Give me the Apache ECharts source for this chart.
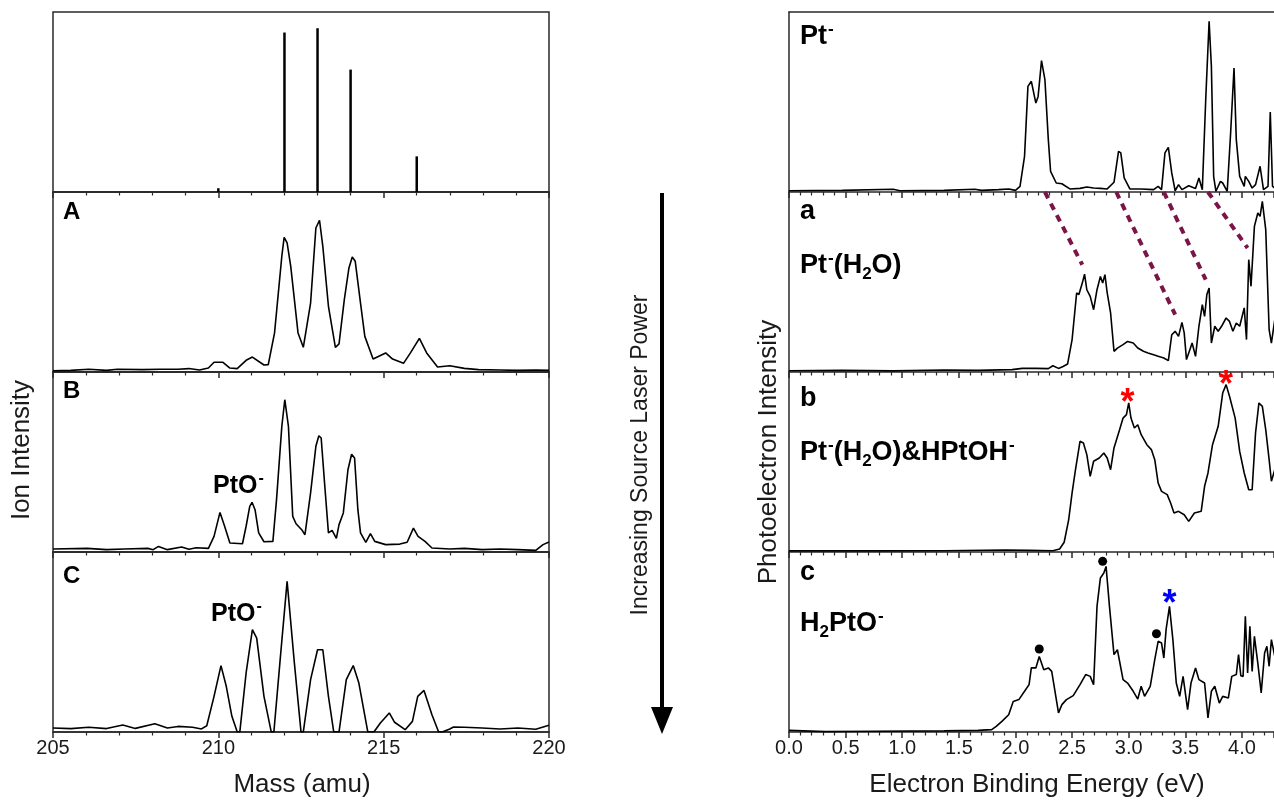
<!DOCTYPE html>
<html><head><meta charset="utf-8">
<script src="https://cdn.jsdelivr.net/npm/echarts@6/dist/echarts.min.js"></script>
<style>html,body{margin:0;padding:0;background:#fff;overflow:hidden}#c{width:1274px;height:802px}</style>
</head><body><div id="c"></div>
<script>
// ---------- DATA ----------
const stickMass = [210, 212, 213, 214, 216];
const stickAbund = [2.1, 88.6, 91.0, 68.0, 19.8];

const massA = [[205.00,0.7],[205.54,0.9],[206.08,1.5],[206.62,0.9],[206.95,1.5],[207.70,1.3],[208.24,1.5],[208.78,1.5],[209.11,1.9],[209.43,1.1],[209.70,2.2],[209.87,5.4],[210.14,5.4],[210.35,2.2],[210.57,1.9],[210.84,6.5],[211.03,8.3],[211.38,3.9],[211.51,4.1],[211.70,21.7],[211.92,64.3],[211.99,74.8],[212.08,71.7],[212.19,58.7],[212.41,21.7],[212.57,13.7],[212.79,38.3],[212.95,80.0],[213.06,84.3],[213.16,69.8],[213.33,36.5],[213.54,13.7],[213.65,15.6],[213.81,40.2],[213.95,57.8],[214.05,63.9],[214.14,61.5],[214.30,38.3],[214.43,19.8],[214.68,7.2],[215.06,10.6],[215.27,7.2],[215.60,4.8],[215.81,10.6],[216.08,18.7],[216.30,10.6],[216.63,2.8],[217.00,3.5],[217.44,2.0],[217.87,1.3],[218.52,1.1],[219.06,0.9],[219.60,1.1],[220.00,0.9]];

const massB = [[205.00,1.7],[206.03,2.0],[206.62,1.3],[207.16,1.7],[207.87,2.0],[208.03,1.3],[208.19,3.1],[208.46,1.3],[208.89,2.8],[209.11,1.5],[209.33,2.4],[209.70,2.0],[209.87,8.7],[210.05,22.0],[210.19,14.3],[210.35,5.0],[210.73,4.6],[210.84,14.3],[210.95,25.4],[211.02,27.6],[211.11,23.5],[211.22,10.6],[211.38,5.7],[211.65,5.9],[211.76,29.1],[211.92,69.8],[212.01,84.6],[212.12,69.8],[212.25,19.8],[212.35,15.7],[212.52,12.4],[212.62,9.6],[212.79,32.8],[212.95,58.7],[213.04,64.6],[213.11,63.3],[213.22,36.5],[213.33,10.6],[213.44,12.0],[213.57,7.6],[213.65,15.2],[213.78,21.7],[213.92,45.7],[214.03,54.3],[214.12,52.2],[214.22,23.5],[214.30,10.6],[214.46,5.4],[214.60,10.2],[214.73,5.9],[215.06,4.1],[215.49,4.4],[215.71,5.4],[215.90,13.3],[216.04,8.7],[216.25,5.9],[216.46,2.2],[217.00,1.7],[217.44,2.0],[217.98,1.3],[218.52,1.7],[219.06,1.3],[219.60,0.9],[219.82,4.1],[220.00,5.6]];

const massC = [[205.00,2.2],[205.54,1.9],[206.08,2.6],[206.62,1.9],[207.11,3.9],[207.49,2.0],[208.08,4.6],[208.46,2.2],[208.78,3.1],[209.22,2.6],[209.49,1.7],[209.65,3.5],[209.87,19.8],[210.08,36.9],[210.24,25.4],[210.41,8.7],[210.57,0.1],[210.65,0.1],[210.84,32.8],[211.03,56.9],[211.16,52.2],[211.38,19.8],[211.60,0.1],[211.68,0.1],[211.87,40.2],[212.08,83.7],[212.30,38.3],[212.50,0.1],[212.57,0.1],[212.79,29.1],[213.00,45.7],[213.16,45.7],[213.33,19.8],[213.49,0.1],[213.65,0.1],[213.87,29.1],[214.08,36.9],[214.25,27.2],[214.52,0.1],[214.71,0.1],[214.90,5.0],[215.17,10.6],[215.33,5.4],[215.65,1.3],[215.87,5.9],[216.03,19.8],[216.22,23.1],[216.46,9.6],[216.66,0.1],[216.79,0.1],[217.00,1.7],[217.11,2.8],[217.44,2.6],[217.98,2.2],[218.52,1.7],[219.06,2.2],[219.60,1.5],[220.00,3.7]];

const ptAnion = [[0.00,0.7],[0.47,0.9],[0.92,1.5],[0.98,0.7],[1.37,0.9],[1.64,1.5],[1.70,0.9],[1.85,1.3],[1.94,1.7],[2.00,0.9],[2.04,3.1],[2.08,19.8],[2.11,58.7],[2.14,61.5],[2.18,49.4],[2.20,53.1],[2.23,73.0],[2.26,62.4],[2.29,29.1],[2.31,11.5],[2.36,5.0],[2.41,4.6],[2.48,1.7],[2.57,2.0],[2.63,2.8],[2.69,2.2],[2.75,2.0],[2.81,1.7],[2.87,5.4],[2.91,22.6],[2.93,21.7],[2.96,7.8],[3.01,1.7],[3.11,1.7],[3.22,1.3],[3.26,3.1],[3.29,1.3],[3.32,21.7],[3.35,24.8],[3.38,10.6],[3.41,0.7],[3.44,4.1],[3.47,1.3],[3.53,3.5],[3.59,2.0],[3.62,7.8],[3.65,1.3],[3.68,51.3],[3.71,94.8],[3.73,69.8],[3.75,8.7],[3.77,0.4],[3.81,5.9],[3.83,5.0],[3.87,0.4],[3.90,32.8],[3.93,68.9],[3.95,29.1],[3.98,8.7],[4.02,3.1],[4.03,8.7],[4.06,5.9],[4.09,2.2],[4.12,4.1],[4.16,14.3],[4.19,1.3],[4.23,3.1],[4.25,44.4],[4.27,3.1],[4.29,2.2]];

const ptWater = [[0.00,0.7],[0.47,0.9],[0.92,0.6],[1.37,1.1],[1.67,0.9],[1.97,1.3],[2.06,2.0],[2.18,2.0],[2.29,1.9],[2.33,3.5],[2.38,2.0],[2.42,3.1],[2.46,4.4],[2.50,18.0],[2.54,43.9],[2.56,43.0],[2.59,49.4],[2.61,54.4],[2.63,45.7],[2.66,42.0],[2.69,34.6],[2.72,45.7],[2.75,53.1],[2.77,49.4],[2.79,54.1],[2.81,43.9],[2.84,32.8],[2.87,11.5],[2.90,13.3],[2.95,15.2],[2.99,17.0],[3.04,16.1],[3.08,13.3],[3.13,11.5],[3.17,10.6],[3.22,9.6],[3.26,8.7],[3.31,7.8],[3.35,6.3],[3.38,20.7],[3.41,22.6],[3.44,19.8],[3.47,27.6],[3.49,21.7],[3.51,6.9],[3.54,12.4],[3.56,16.1],[3.59,8.7],[3.62,25.4],[3.65,37.4],[3.67,30.9],[3.69,43.0],[3.71,46.7],[3.73,16.1],[3.76,25.4],[3.79,22.6],[3.82,25.4],[3.86,30.0],[3.89,28.1],[3.92,22.6],[3.95,27.2],[3.98,25.4],[4.02,35.6],[4.04,18.0],[4.06,62.4],[4.08,47.6],[4.11,80.9],[4.14,88.3],[4.16,86.5],[4.18,94.8],[4.21,79.1],[4.24,23.5],[4.26,16.1],[4.29,29.1]];

const ptMix = [[0.00,0.6],[0.77,0.6],[1.37,0.7],[1.91,1.1],[2.12,0.9],[2.33,0.7],[2.39,1.7],[2.43,5.4],[2.47,18.0],[2.50,32.8],[2.53,45.7],[2.57,61.5],[2.60,60.6],[2.63,54.1],[2.66,42.0],[2.69,50.4],[2.74,52.2],[2.78,55.0],[2.81,52.2],[2.84,45.7],[2.87,57.8],[2.92,68.0],[2.95,74.4],[2.98,76.3],[3.00,82.8],[3.02,74.4],[3.05,68.9],[3.08,70.7],[3.11,65.2],[3.16,59.6],[3.20,56.9],[3.23,51.3],[3.26,38.3],[3.29,33.7],[3.34,31.9],[3.37,27.2],[3.40,21.7],[3.44,22.6],[3.49,20.7],[3.53,17.0],[3.58,21.7],[3.64,22.6],[3.67,36.5],[3.70,43.9],[3.74,59.6],[3.79,69.8],[3.83,88.3],[3.86,93.0],[3.89,86.5],[3.94,74.4],[3.98,55.9],[4.02,43.9],[4.06,34.6],[4.09,34.6],[4.12,66.1],[4.15,82.8],[4.18,80.9],[4.21,68.0],[4.24,51.3],[4.26,39.3],[4.29,45.7]];

const h2pto = [[0.00,0.9],[0.32,0.2],[0.77,0.4],[1.37,0.6],[1.67,0.9],[1.79,1.3],[1.83,3.1],[1.88,5.9],[1.94,9.6],[1.98,17.0],[2.03,18.0],[2.08,22.6],[2.12,26.3],[2.14,35.6],[2.18,35.6],[2.21,42.0],[2.25,34.6],[2.29,35.6],[2.32,33.7],[2.38,10.6],[2.41,15.2],[2.45,18.0],[2.51,20.2],[2.57,26.3],[2.62,31.9],[2.66,30.9],[2.69,26.3],[2.72,69.8],[2.75,85.6],[2.78,88.3],[2.80,92.0],[2.83,69.8],[2.87,43.0],[2.90,45.7],[2.95,29.1],[2.99,27.2],[3.04,22.6],[3.08,18.3],[3.11,25.4],[3.14,19.8],[3.19,25.4],[3.23,40.2],[3.26,50.4],[3.29,49.4],[3.31,41.1],[3.33,56.9],[3.36,69.8],[3.39,51.3],[3.42,27.2],[3.45,19.8],[3.48,30.9],[3.52,12.4],[3.55,27.2],[3.59,35.6],[3.62,29.1],[3.67,27.2],[3.70,7.8],[3.73,22.6],[3.76,25.4],[3.80,16.1],[3.83,19.8],[3.88,18.9],[3.91,30.9],[3.95,31.9],[3.97,43.0],[3.99,31.3],[4.01,30.9],[4.03,64.3],[4.05,32.8],[4.07,58.7],[4.09,33.7],[4.11,53.1],[4.14,38.3],[4.17,21.7],[4.20,43.9],[4.22,47.6],[4.24,36.5],[4.26,51.3],[4.29,42.0]];

// correlation guides (Pt- peaks -> Pt-(H2O) peaks), values in panel "a" units
const guideLines = [
  [[2.26,100],[2.59,59.6]],
  [[2.89,100],[3.41,31.9]],
  [[3.31,100],[3.68,51.3]],
  [[3.70,100],[4.05,68.9]]
];
const redStars = [[2.99,86.5],[3.86,96.7]];
const blueStars = [[3.36,75.0]];
const dots = [[2.21,46.1],[2.77,94.8],[3.245,54.6]];

const massTicks = [205, 210, 215, 220];
const energyTicks = [0.0,0.5,1.0,1.5,2.0,2.5,3.0,3.5,4.0];
const energyMax = 4.283; // visible right edge of the (cropped) energy panels

// ---------- CHART ----------
const FONT = '"Liberation Sans", Arial, sans-serif';
const INK = '#1a1a1a';
const EDGE = '#2a2a2a';
const panelTops = [12, 192, 372, 552];
const grids = [];
panelTops.forEach(t => grids.push({left:53, width:496, top:t, height:180, show:true, borderColor:EDGE, borderWidth:1.5, backgroundColor:'transparent'}));
panelTops.forEach(t => grids.push({left:789, right:0, top:t, height:180, show:false}));

const xAxes = [], yAxes = [];
for (let i = 0; i < 8; i++) {
  const left = i < 4;
  const bottom = (i === 3 || i === 7);
  xAxes.push({
    type:'value', gridIndex:i,
    min: left ? massTicks[0] : energyTicks[0],
    max: left ? massTicks[massTicks.length-1] : energyMax,
    interval: left ? 5 : 0.5,
    axisLine:{show:true, onZero:false, lineStyle:{color:EDGE, width:1.5}},
    axisTick:{show:true, inside:false, length:6, lineStyle:{color:EDGE, width:1.5}},
    minorTick:{show:true, splitNumber:5, length:3.5, lineStyle:{color:EDGE, width:1.2}},
    splitLine:{show:false}, minorSplitLine:{show:false},
    axisLabel:{show:bottom, fontSize:20, color:INK, fontFamily:FONT, margin:6, showMaxLabel:left,
      formatter: left ? (v => String(v)) : (v => v > 4.01 ? '' : v.toFixed(1))}
  });
  yAxes.push({type:'value', gridIndex:i, min:0, max:100, show:!left,
    axisLine:{show:!left, lineStyle:{color:EDGE, width:1.5}}, axisTick:{show:false}, axisLabel:{show:false}, splitLine:{show:false}});
}
// top frame line of the Pt- panel
xAxes.push({type:'value', gridIndex:4, position:'top', min:0, max:energyMax,
  axisLine:{show:true, onZero:false, lineStyle:{color:EDGE, width:1.5}}, axisTick:{show:false}, axisLabel:{show:false}, splitLine:{show:false}});

const lineSeries = (data, idx) => ({
  type:'line', xAxisIndex:idx, yAxisIndex:idx, data, showSymbol:false, symbol:'none',
  lineStyle:{color:'#000', width:1.6}, silent:true, animation:false
});

const series = [
  {type:'bar', xAxisIndex:0, yAxisIndex:0, barWidth:2.5,
   data: stickMass.map((m,i)=>[m, stickAbund[i]]), itemStyle:{color:'#000'}, animation:false},
  lineSeries(massA,1), lineSeries(massB,2), lineSeries(massC,3),
  lineSeries(ptAnion,4), lineSeries(ptWater,5), lineSeries(ptMix,6), lineSeries(h2pto,7)
];
guideLines.forEach(seg => series.push({
  type:'line', xAxisIndex:5, yAxisIndex:5, data:seg, showSymbol:false, symbol:'none',
  clip:false, lineStyle:{color:'#7b1548', width:4, type:[7,6], cap:'butt'}, z:1, animation:false
}));
const starSeries = (data, idx, color) => ({
  type:'scatter', xAxisIndex:idx, yAxisIndex:idx, data, symbolSize:1, clip:false,
  itemStyle:{color:'rgba(0,0,0,0)', opacity:1}, z:5, animation:false,
  label:{show:true, position:'inside', formatter:'*', color, opacity:1, fontSize:36, fontWeight:'bold',
    fontFamily:FONT, offset:[0,8]}
});
series.push(starSeries(redStars, 6, '#ff0000'));
series.push(starSeries(blueStars, 7, '#0000ff'));
series.push({type:'scatter', xAxisIndex:7, yAxisIndex:7, data:dots, symbol:'circle', symbolSize:9,
  itemStyle:{color:'#000', opacity:1}, clip:false, animation:false});

const B = (s) => ({fontSize:s, fontWeight:'bold', fontFamily:FONT, fill:'#000', lineHeight:s+6});
const SUP = (s) => ({fontSize:Math.round(s*0.62), fontWeight:'bold', fontFamily:FONT, fill:'#000', verticalAlign:'top', lineHeight:s+6, padding:[0,0,0,1]});
const SUB = (s) => ({fontSize:Math.round(s*0.62), fontWeight:'bold', fontFamily:FONT, fill:'#000', verticalAlign:'bottom', lineHeight:s+6});
const label = (x, y, text, s) => ({
  type:'text', x, y, z:10,
  style:{text, align:'left', verticalAlign:'middle', rich:{n:B(s), sup:SUP(s), sub:SUB(s)}}
});

const graphic = [
  // left panel labels
  label(63, 212, '{n|A}', 24),
  label(63, 391, '{n|B}', 24),
  label(63, 576, '{n|C}', 24),
  label(213, 486, '{n|PtO}{sup|-}', 25),
  label(211, 614, '{n|PtO}{sup|-}', 25),
  // right panel labels
  label(800, 37, '{n|Pt}{sup|-}', 27),
  label(800, 212, '{n|a}', 27),
  label(800, 266, '{n|Pt}{sup|-}{n|(H}{sub|2}{n|O)}', 27),
  label(800, 399, '{n|b}', 27),
  label(800, 453, '{n|Pt}{sup|-}{n|(H}{sub|2}{n|O)&HPtOH}{sup|-}', 27),
  label(800, 573, '{n|c}', 27),
  label(800, 624, '{n|H}{sub|2}{n|PtO}{sup|-}', 27),
  // axis names
  {type:'text', x:302, y:785, style:{text:'Mass (amu)', fontSize:26, fontFamily:FONT, fill:INK, align:'center', verticalAlign:'middle'}},
  {type:'text', x:1037, y:785, style:{text:'Electron Binding Energy (eV)', fontSize:26, fontFamily:FONT, fill:INK, align:'center', verticalAlign:'middle'}},
  {type:'text', x:22, y:450, rotation:Math.PI/2, style:{text:'Ion Intensity', fontSize:26, fontFamily:FONT, fill:INK, align:'center', verticalAlign:'middle'}},
  {type:'text', x:769, y:452, rotation:Math.PI/2, style:{text:'Photoelectron Intensity', fontSize:26, fontFamily:FONT, fill:INK, align:'center', verticalAlign:'middle'}},
  // arrow
  {type:'line', shape:{x1:662, y1:193, x2:662, y2:712}, style:{stroke:'#000', lineWidth:4}},
  {type:'polygon', shape:{points:[[651,707],[673,707],[662,734]]}, style:{fill:'#000'}},
  {type:'text', x:641, y:455, rotation:Math.PI/2, style:{text:'Increasing Source Laser Power', fontSize:23, fontFamily:FONT, fill:INK, align:'center', verticalAlign:'middle'}}
];

const chart = echarts.init(document.getElementById('c'), null, {renderer:'canvas'});
chart.setOption({
  backgroundColor:'#fff', animation:false,
  grid:grids, xAxis:xAxes, yAxis:yAxes, series, graphic
});
</script>
</body></html>
